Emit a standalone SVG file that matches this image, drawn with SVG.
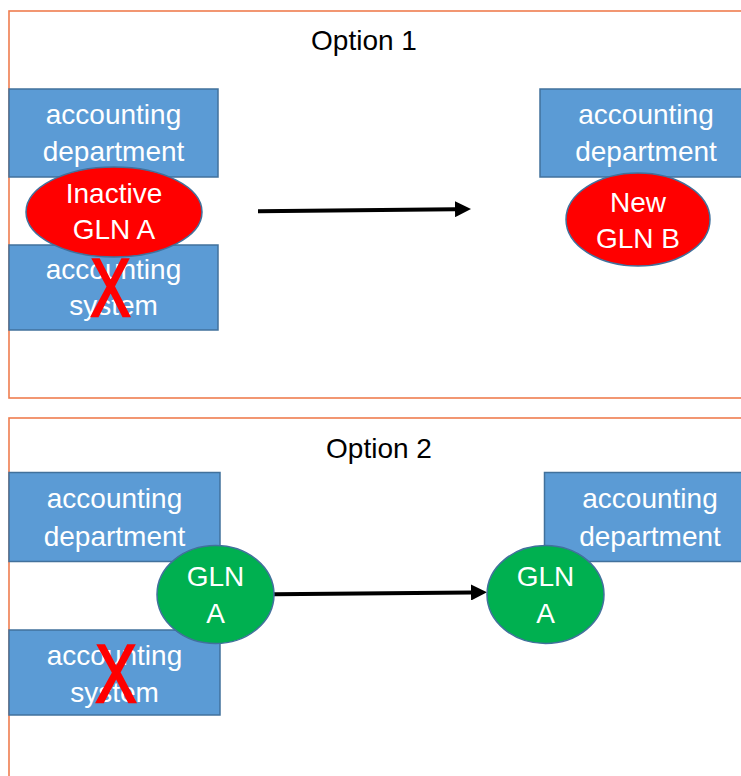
<svg xmlns="http://www.w3.org/2000/svg" width="741" height="776" viewBox="0 0 741 776">
<style>
.frame{fill:none;stroke:#EF7D4F;stroke-width:1.6}
.box{fill:#5B9BD5;stroke:#41719C;stroke-width:1.5}
.red{fill:#FF0000;stroke:#41719C;stroke-width:1.5}
.green{fill:#00B050;stroke:#41719C;stroke-width:1.5}
.t{font-family:"Liberation Sans",Arial,sans-serif;font-size:28px;fill:#FFFFFF;text-anchor:middle}
.title{font-family:"Liberation Sans",Arial,sans-serif;font-size:28px;fill:#000000;text-anchor:middle}
.x{font-family:"Liberation Sans",Arial,sans-serif;font-size:81px;fill:#FF0000;stroke:#FF0000;stroke-width:2.5;text-anchor:middle}
.conn{stroke:#000000;stroke-width:4;fill:none}
</style>
<defs>
<marker id="ah" markerWidth="4" markerHeight="4" refX="0" refY="2" orient="auto" markerUnits="strokeWidth">
<path d="M0,0 L4,2 L0,4 Z" fill="#000000"/>
</marker>
</defs>
<rect width="741" height="776" fill="#FFFFFF"/>

<g id="option1">
<rect class="frame" x="9" y="11" width="760" height="387"/>
<text class="title" x="364" y="50">Option 1</text>
</g>
<g id="option2">
<rect class="frame" x="9" y="418" width="760" height="380"/>
<text class="title" x="379" y="458">Option 2</text>
</g>

<g id="connectors">
<path class="conn" d="M258,211.3 L455,209.2" marker-end="url(#ah)"/>
<path class="conn" d="M274,594.3 L471,592.5" marker-end="url(#ah)"/>
</g>

<g id="o1-dept-left">
<rect class="box" x="9" y="89" width="209" height="88"/>
<text class="t" x="113.5" y="124">accounting</text>
<text class="t" x="113.5" y="160.5">department</text>
</g>
<g id="o1-system">
<rect class="box" x="9" y="245" width="209" height="85"/>
<text class="t" x="113.5" y="279">accounting</text>
<text class="t" x="113.5" y="315">system</text>
</g>
<g id="o1-gln-a">
<ellipse class="red" cx="114" cy="212" rx="88" ry="45"/>
<text class="t" x="114" y="202.5">Inactive</text>
<text class="t" x="114" y="239">GLN A</text>
</g>
<g id="o1-x">
<text class="x" x="110.5" y="316" textLength="40" lengthAdjust="spacingAndGlyphs">X</text>
</g>
<g id="o1-dept-right">
<rect class="box" x="540" y="89" width="230" height="88"/>
<text class="t" x="646" y="124">accounting</text>
<text class="t" x="646" y="160.5">department</text>
</g>
<g id="o1-gln-b">
<ellipse class="red" cx="638" cy="219.5" rx="72" ry="46.5"/>
<text class="t" x="638" y="212">New</text>
<text class="t" x="638" y="248">GLN B</text>
</g>

<g id="o2-dept-left">
<rect class="box" x="9" y="472.5" width="211" height="89"/>
<text class="t" x="114.5" y="508">accounting</text>
<text class="t" x="114.5" y="545.5">department</text>
</g>
<g id="o2-system">
<rect class="box" x="9" y="630" width="211" height="85"/>
<text class="t" x="114.5" y="665">accounting</text>
<text class="t" x="114.5" y="701.5">system</text>
</g>
<g id="o2-gln-a-left">
<ellipse class="green" cx="215.5" cy="594.5" rx="58.5" ry="49"/>
<text class="t" x="215.5" y="586">GLN</text>
<text class="t" x="215.5" y="622.5">A</text>
</g>
<g id="o2-x">
<text class="x" x="116" y="702" textLength="41" lengthAdjust="spacingAndGlyphs">X</text>
</g>
<g id="o2-dept-right">
<rect class="box" x="544.5" y="472.5" width="230" height="89"/>
<text class="t" x="650" y="508">accounting</text>
<text class="t" x="650" y="545.5">department</text>
</g>
<g id="o2-gln-a-right">
<ellipse class="green" cx="545.5" cy="594.5" rx="58.5" ry="49"/>
<text class="t" x="545.5" y="586">GLN</text>
<text class="t" x="545.5" y="622.5">A</text>
</g>
</svg>
